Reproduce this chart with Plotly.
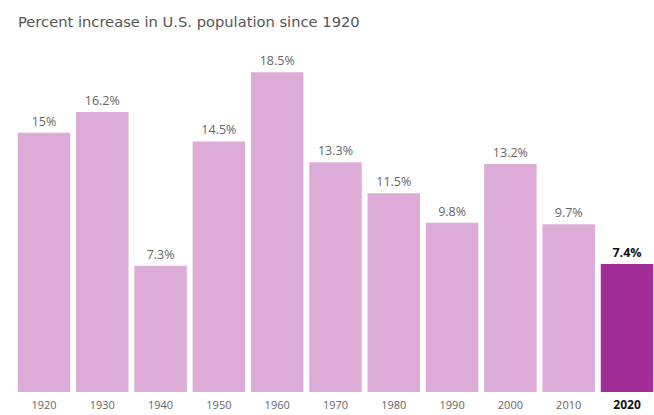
import plotly.graph_objects as go

years = ["1920", "1930", "1940", "1950", "1960", "1970", "1980", "1990", "2000", "2010", "2020"]
increase = [15, 16.2, 7.3, 14.5, 18.5, 13.3, 11.5, 9.8, 13.2, 9.7, 7.4]
labels = ["15%", "16.2%", "7.3%", "14.5%", "18.5%", "13.3%", "11.5%", "9.8%", "13.2%", "9.7%", "<b>7.4%</b>"]
tick_labels = years[:-1] + ["<b><span style='color:#111111;font-size:12px'>2020</span></b>"]

light = "#ddabd7"
dark = "#9f2d95"
colors = [light] * (len(years) - 1) + [dark]
text_colors = ["#666666"] * (len(years) - 1) + ["#111111"]

fig = go.Figure(go.Bar(
    x=list(range(len(years))),
    y=increase,
    marker=dict(color=colors, line=dict(width=0)),
    text=labels,
    textposition="outside",
    textfont=dict(family="Open Sans, sans-serif", size=12.5, color=text_colors),
    cliponaxis=False,
    hoverinfo="skip",
))

fig.update_layout(
    width=654, height=415,
    margin=dict(l=15, r=0, t=55, b=23),
    paper_bgcolor="white", plot_bgcolor="white",
    bargap=0.1,
    showlegend=False,
    title=dict(
        text="Percent increase in U.S. population since 1920",
        x=18 / 654, xanchor="left", xref="container",
        y=1 - 22 / 415, yanchor="middle", yref="container",
        font=dict(family="DejaVu Sans, sans-serif", size=14.7, color="#555555"),
    ),
    xaxis=dict(
        range=[-0.497, 10.463],
        tickmode="array",
        tickvals=list(range(len(years))),
        ticktext=tick_labels,
        tickfont=dict(family="Open Sans, sans-serif", size=11, color="#666666"),
        ticklabelstandoff=5,
        showgrid=False, zeroline=False, showline=False, ticks="",
    ),
    yaxis=dict(
        range=[0, 19.5],
        visible=False,
        showgrid=False, zeroline=False,
    ),
)

fig.write_html(
    "out.html",
    config={"displayModeBar": False},
    post_script="document.body.style.margin='0';document.body.style.overflow='hidden';",
)
